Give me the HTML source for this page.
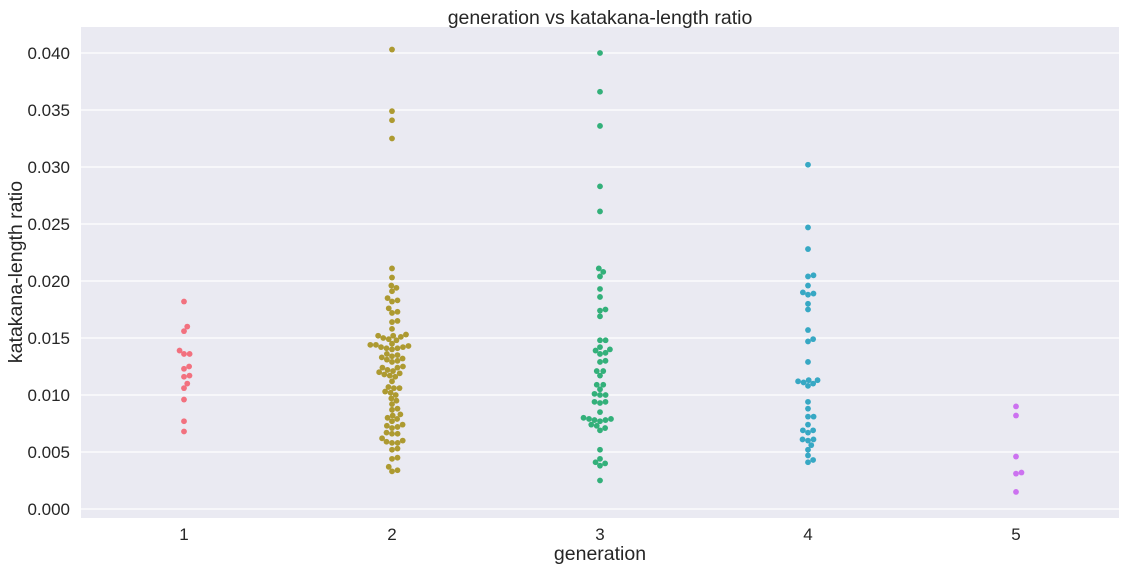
<!DOCTYPE html>
<html><head><meta charset="utf-8"><style>
body{margin:0;background:#fff;}
svg text{font-family:"Liberation Sans","DejaVu Sans",sans-serif;fill:#262626;}
</style></head><body>
<svg id="chart" width="1127" height="571">
<rect x="81" y="27" width="1038" height="491" fill="#eaeaf2"/>
<g id="grid"></g><g id="ticks"></g><g id="marks"></g>
<text x="600" y="24" font-size="19.5" text-anchor="middle">generation vs katakana-length ratio</text>
<text x="600" y="560" font-size="19.5" text-anchor="middle">generation</text>
<text x="22" y="272" font-size="19.5" text-anchor="middle" transform="rotate(-90 22 272)">katakana-length ratio</text>
</svg>
<script>
const categories = ["1","2","3","4","5"];
const colors = ["#f2717f","#ad9a31","#33b07a","#37a8c4","#cc72f0"];
const yTicks = [0,0.005,0.01,0.015,0.02,0.025,0.03,0.035,0.04];
const gen1 = [.0182,.0160,.0156,.0139,.0136,.0136,.0125,.0123,.0117,.0116,.0110,.0106,.0096,.0077,.0068];
const gen2 = [.0403,.0349,.0341,.0325,.0211,.0203,.0196,.0194,.0191,.0185,.0183,.0182,.0176,.0173,.0172,.0165,.0164,.0158,
.0153,.0152,.0151,.0150,.0149,.0148,.0152,.0145,.0144,.0143,.0142,.0141,.0140,.0144,.0141,.0142,
.0136,.0135,.0133,.0132,.0130,.0129,.0134,.0131,.0125,.0124,.0122,.0121,.0120,.0118,.0117,.0116,.0124,.0119,
.0112,.0107,.0106,.0106,.0103,.0102,.0100,.0097,.0095,.0092,.0088,.0087,.0083,.0082,.0080,.0079,.0077,
.0074,.0073,.0072,.0071,.0067,.0066,.0066,.0062,.0060,.0059,.0058,.0058,.0053,.0052,.0045,.0044,.0037,.0034,.0033];
const gen3 = [.0400,.0366,.0336,.0283,.0261,.0211,.0208,.0204,.0193,.0186,.0175,.0174,.0169,.0148,.0148,.0142,.0140,.0139,.0137,.0136,
.0130,.0129,.0121,.0121,.0117,.0109,.0109,.0105,.0101,.0100,.0100,.0094,.0094,.0093,.0085,.0079,.0078,.0077,.0078,.0079,.0080,
.0074,.0073,.0071,.0069,.0052,.0044,.0040,.0041,.0038,.0025];
const gen4 = [.0302,.0247,.0228,.0205,.0204,.0196,.0190,.0189,.0188,.0180,.0175,.0157,.0149,.0147,.0129,.0113,.0113,.0112,.0111,.0110,.0108,
.0094,.0088,.0081,.0081,.0074,.0069,.0069,.0067,.0061,.0061,.0060,.0056,.0052,.0047,.0043,.0041];
const gen5 = [.0090,.0082,.0046,.0032,.0031,.0015];
const series = [gen1,gen2,gen3,gen4,gen5];

const NS="http://www.w3.org/2000/svg";
function yScale(v){return 509 - v*11400;}
function xScale(i){return 184 + i*208;}
const grid=document.getElementById('grid'), ticks=document.getElementById('ticks'), marks=document.getElementById('marks');
yTicks.forEach(t=>{
  const y=yScale(t);
  const l=document.createElementNS(NS,'line');
  l.setAttribute('x1',81);l.setAttribute('x2',1119);l.setAttribute('y1',y);l.setAttribute('y2',y);
  l.setAttribute('stroke','#fff');l.setAttribute('stroke-width','1.2');
  
  
  grid.appendChild(l);
  const tx=document.createElementNS(NS,'text');
  tx.setAttribute('x',70);tx.setAttribute('y',y+6);tx.setAttribute('font-size','17');tx.setAttribute('text-anchor','end');
  tx.textContent=t.toFixed(3);
  
  
  ticks.appendChild(tx);
});
categories.forEach((c,i)=>{
  const tx=document.createElementNS(NS,'text');
  tx.setAttribute('x',xScale(i));tx.setAttribute('y',540);tx.setAttribute('font-size','17');tx.setAttribute('text-anchor','middle');
  tx.textContent=c;
  
  
  ticks.appendChild(tx);
});
const D=5.6;
series.forEach((vals,i)=>{
  const cx=xScale(i);
  const sorted=vals.slice().sort((a,b)=>a-b);
  const placed=[];
  sorted.forEach(v=>{
    const y=yScale(v);
    const cands=[0];
    placed.forEach(p=>{
      const dy=y-p.y;
      if(Math.abs(dy)<D){const dx=Math.sqrt(D*D-dy*dy);cands.push(p.x+dx,p.x-dx);}
    });
    cands.sort((a,b)=>Math.abs(a)-Math.abs(b));
    let xo=0;
    for(const c of cands){
      if(placed.every(p=>(p.x-c)**2+(p.y-y)**2>=D*D-0.01)){xo=c;break;}
    }
    placed.push({x:xo,y:y});
    const ci=document.createElementNS(NS,'circle');
    ci.setAttribute('cx',cx+xo);ci.setAttribute('cy',y);ci.setAttribute('r',2.9);ci.setAttribute('fill',colors[i]);
    
    
    marks.appendChild(ci);
  });
});
</script>
</body></html>
